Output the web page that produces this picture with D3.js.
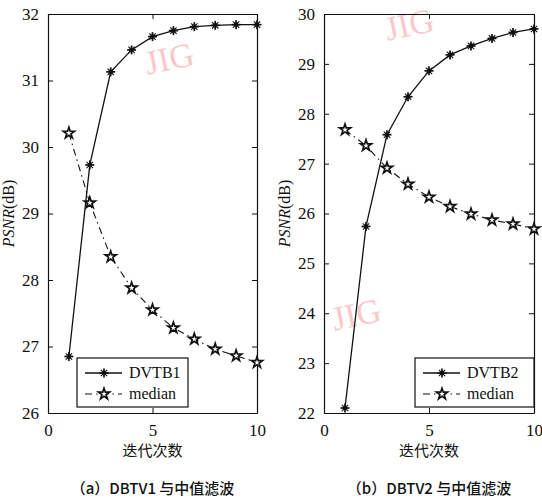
<!DOCTYPE html>
<html>
<head>
<meta charset="utf-8">
<script src="https://cdn.jsdelivr.net/npm/d3@7"></script>
<style>
  body { margin: 0; background: #fff; }
  svg text { font-family: "Liberation Serif", "DejaVu Serif", serif; fill: #111; }
  svg text.cjk { font-family: "Noto Sans CJK SC", sans-serif; }
</style>
</head>
<body>
<div id="chart"></div>
<script>
const iterations = [1, 2, 3, 4, 5, 6, 7, 8, 9, 10];

const dvtb1 = [26.85, 29.73, 31.13, 31.46, 31.66, 31.75, 31.81, 31.83, 31.84, 31.84];
const median1 = [30.21, 29.16, 28.35, 27.88, 27.55, 27.28, 27.11, 26.96, 26.86, 26.76];

const dvtb2 = [22.1, 25.74, 27.58, 28.34, 28.86, 29.18, 29.36, 29.51, 29.63, 29.7];
const median2 = [27.68, 27.36, 26.91, 26.59, 26.33, 26.14, 25.99, 25.87, 25.79, 25.69];

const xTicks = [0, 5, 10];
const yTicks1 = [26, 27, 28, 29, 30, 31, 32];
const yTicks2 = [22, 23, 24, 25, 26, 27, 28, 29, 30];

const panels = [
  { left: 48, right: 257, yDomain: [26, 32], yTicks: yTicks1, main: dvtb1, mainName: 'DVTB1', med: median1,
    caption: '（a）DBTV1 与中值滤波', legendX: 77, legendW: 111 },
  { left: 324, right: 534, yDomain: [22, 30], yTicks: yTicks2, main: dvtb2, mainName: 'DVTB2', med: median2,
    caption: '（b）DBTV2 与中值滤波', legendX: 415, legendW: 119 },
];

const width = 542, height = 500;
const plotTop = 14, plotBottom = 413;
const serif = '"Liberation Serif", "DejaVu Serif", serif';

const svg = d3.select('#chart').append('svg')
  .attr('width', width)
  .attr('height', height);

// watermark "JIG" scattered over the figure, like the scanned source
const marks = [[170, 62], [118, 392], [410, 28], [357, 318]];
svg.append('g').selectAll('text')
  .data(marks)
  .join('text')
  .attr('transform', d => `translate(${d[0]},${d[1]}) rotate(-12)`)
  .attr('text-anchor', 'middle')
  .attr('dominant-baseline', 'middle')
  .style('font-size', '34px')
  .style('fill', '#f9c9c9')
  .text('JIG');

const starMark = d3.symbol().type(d3.symbolStar).size(38);

function asterisk(g, size) {
  g.append('circle').attr('r', 2.3).attr('fill', '#111');
  for (const a of [0, 45, 90, 135]) {
    g.append('line')
      .attr('x1', -size).attr('x2', size)
      .attr('transform', `rotate(${a})`)
      .attr('stroke', '#111').attr('stroke-width', a % 90 === 0 ? 1.7 : 1.1);
  }
}

for (const p of panels) {
  const x = d3.scaleLinear().domain([0, 10]).range([p.left, p.right]);
  const y = d3.scaleLinear().domain(p.yDomain).range([plotBottom, plotTop]);
  const g = svg.append('g');

  // axes with inward ticks, box style
  g.append('g').attr('transform', `translate(0,${plotBottom})`)
    .call(d3.axisBottom(x).tickValues(xTicks).tickFormat(d3.format('d'))
      .tickSizeInner(-5).tickSizeOuter(0).tickPadding(9))
    .call(a => a.selectAll('text').style('font-size', '17px').style('font-family', serif).attr('dy', '0.8em'));
  g.append('g').attr('transform', `translate(0,${plotTop})`)
    .call(d3.axisTop(x).tickValues(xTicks).tickSizeInner(-5).tickSizeOuter(0).tickFormat(''));
  g.append('g').attr('transform', `translate(${p.left},0)`)
    .call(d3.axisLeft(y).tickValues(p.yTicks).tickFormat(d3.format('d'))
      .tickSizeInner(-5).tickSizeOuter(0).tickPadding(9))
    .call(a => a.selectAll('text').style('font-size', '17px').style('font-family', serif));
  g.append('g').attr('transform', `translate(${p.right},0)`)
    .call(d3.axisRight(y).tickValues(p.yTicks).tickSizeInner(-5).tickSizeOuter(0).tickFormat(''));
  g.selectAll('.domain').attr('stroke', '#111').attr('stroke-width', 1.2);
  g.selectAll('.tick line').attr('stroke', '#111');

  // lines
  const line = d3.line().x((d, i) => x(iterations[i])).y(d => y(d));
  g.append('path').datum(p.med).attr('d', line)
    .attr('fill', 'none').attr('stroke', '#111').attr('stroke-width', 1.1)
    .attr('stroke-dasharray', '7,4,1.5,4');
  g.append('path').datum(p.main).attr('d', line)
    .attr('fill', 'none').attr('stroke', '#111').attr('stroke-width', 1.3);

  g.append('g').selectAll('path')
    .data(p.med)
    .join('path')
    .attr('transform', (d, i) => `translate(${x(iterations[i])},${y(d)})`)
    .attr('d', starMark)
    .attr('fill', '#fff').attr('stroke', '#111').attr('stroke-width', 1.7);

  g.append('g').selectAll('g')
    .data(p.main)
    .join('g')
    .attr('transform', (d, i) => `translate(${x(iterations[i])},${y(d)})`)
    .each(function () { asterisk(d3.select(this), 4.5); });

  // legend
  const lg = g.append('g').attr('transform', `translate(${p.legendX},358)`);
  lg.append('rect').attr('width', p.legendW).attr('height', 49)
    .attr('fill', '#fff').attr('stroke', '#111').attr('stroke-width', 1.2);
  lg.append('line').attr('x1', 8).attr('x2', 45).attr('y1', 15).attr('y2', 15)
    .attr('stroke', '#111').attr('stroke-width', 1.3);
  asterisk(lg.append('g').attr('transform', 'translate(27,15)'), 4.5);
  lg.append('line').attr('x1', 8).attr('x2', 45).attr('y1', 36).attr('y2', 36)
    .attr('stroke', '#111').attr('stroke-width', 1.1).attr('stroke-dasharray', '7,4,1.5,4');
  lg.append('path').attr('transform', 'translate(27,36)').attr('d', starMark)
    .attr('fill', '#fff').attr('stroke', '#111').attr('stroke-width', 1.7);
  lg.append('text').attr('x', 52).attr('y', 20).style('font-size', '16px').text(p.mainName);
  lg.append('text').attr('x', 52).attr('y', 41).style('font-size', '16px').text('median');

  // y label
  const yl = g.append('text')
    .attr('transform', `translate(${p.left - 34},${(plotTop + plotBottom) / 2}) rotate(-90)`)
    .attr('text-anchor', 'middle')
    .style('font-size', '16px');
  yl.append('tspan').style('font-style', 'italic').text('PSNR');
  yl.append('tspan').text('(dB)');

  // x label
  g.append('text').attr('class', 'cjk')
    .attr('x', x(5)).attr('y', 456)
    .attr('text-anchor', 'middle')
    .style('font-size', '15px')
    .text('迭代次数');

  // caption
  g.append('text').attr('class', 'cjk')
    .attr('x', x(5)).attr('y', 494)
    .attr('text-anchor', 'middle')
    .style('font-size', '15px')
    .style('font-weight', '500')
    .text(p.caption);
}
</script>
</body>
</html>
